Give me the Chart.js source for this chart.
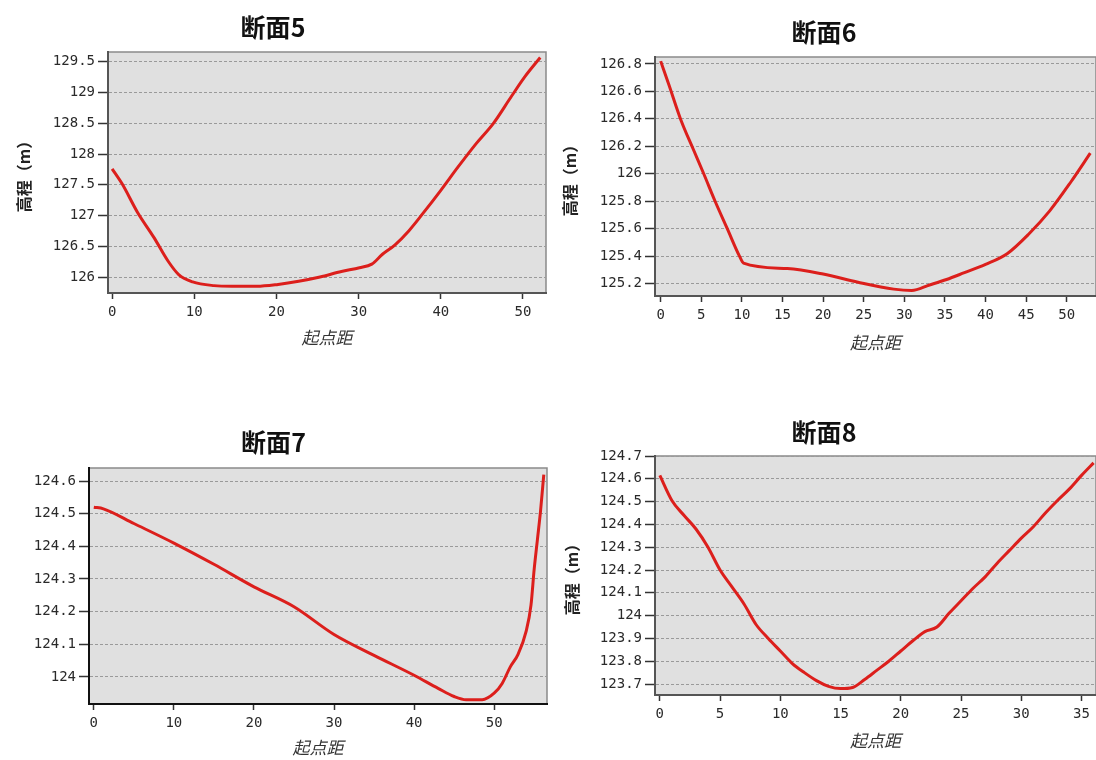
<!DOCTYPE html>
<html>
<head>
<meta charset="utf-8">
<script src="https://cdn.jsdelivr.net/npm/chart.js@4.4.0/dist/chart.umd.min.js"></script>
<style>
body{margin:0;background:#fff;width:1096px;height:760px;overflow:hidden;position:relative}
canvas{position:absolute}
</style>
</head>
<body>
<canvas id="c5" width="566" height="360" style="left:0;top:0"></canvas>
<canvas id="c6" width="544" height="360" style="left:552px;top:0"></canvas>
<canvas id="c7" width="566" height="370" style="left:0;top:390px"></canvas>
<canvas id="c8" width="544" height="370" style="left:552px;top:390px"></canvas>
<script>
// 断面5
const dist5 = [0,1.2,3.1,5.1,6.8,8.1,9.8,12.4,14.6,17.6,20.2,22.7,25.3,27.9,30.1,31.6,32.9,34.4,36.1,37.8,40,42.1,44.3,46.4,48.6,50.3,52.1]
const elev5 = [127.76,127.52,127.05,126.64,126.26,126.04,125.92,125.86,125.85,125.85,125.88,125.93,126.0,126.09,126.15,126.21,126.37,126.52,126.75,127.03,127.41,127.79,128.17,128.5,128.94,129.27,129.57]
const xTicks5 = [0,10,20,30,40,50]
const yTicks5 = [126,126.5,127,127.5,128,128.5,129,129.5]

// 断面6
const dist6 = [0,1,2.5,4,5.3,6.7,8.2,9.7,10.2,15.6,20,24.3,28.7,30.9,33.1,35.2,37.4,40,42.7,45.3,47.9,50.5,52.9]
const elev6 = [126.82,126.65,126.39,126.18,126.0,125.8,125.6,125.4,125.35,125.31,125.27,125.21,125.16,125.15,125.19,125.23,125.28,125.34,125.42,125.56,125.73,125.94,126.15]
const xTicks6 = [0,5,10,15,20,25,30,35,40,45,50]
const yTicks6 = [125.2,125.4,125.6,125.8,126,126.2,126.4,126.6,126.8]

// 断面7
const dist7 = [0,1.2,5,10,15,20,25,30,35,40,43,45,46.5,48.5,50,51,52,53,54,54.6,55,55.4,55.8,56.2]
const elev7 = [124.52,124.515,124.47,124.41,124.345,124.276,124.215,124.13,124.066,124.005,123.965,123.94,123.93,123.93,123.95,123.98,124.03,124.07,124.14,124.22,124.33,124.42,124.51,124.62]
const xTicks7 = [0,10,20,30,40,50]
const yTicks7 = [124,124.1,124.2,124.3,124.4,124.5,124.6]

// 断面8
const dist8 = [0,1,2,3,4,5,6,7,8,9,10,11,12,13,14,15,16,17,18,19,20,21,22,23,24,25,26,27,28,29,30,31,32,33,34,35,36]
const elev8 = [124.615,124.505,124.44,124.38,124.3,124.2,124.125,124.05,123.96,123.9,123.845,123.79,123.75,123.715,123.69,123.68,123.685,123.72,123.76,123.8,123.845,123.89,123.93,123.95,124.01,124.065,124.12,124.17,124.23,124.285,124.34,124.39,124.45,124.505,124.556,124.615,124.67]
const xTicks8 = [0,5,10,15,20,25,30,35]
const yTicks8 = [123.7,123.8,123.9,124,124.1,124.2,124.3,124.4,124.5,124.6,124.7]

const tickFont = {family:'"DejaVu Sans Mono", monospace', size:14}
const cjk = '"Noto Sans CJK SC", sans-serif'

const plotFrame = {
	id:'plotFrame',
	beforeDraw(chart){
		const a = chart.chartArea
		const ctx = chart.ctx
		ctx.save()
		ctx.fillStyle = '#e0e0e0'
		ctx.fillRect(a.left, a.top, a.right - a.left, a.bottom - a.top)
		ctx.strokeStyle = '#8a8a8a'
		ctx.lineWidth = 1.5
		ctx.strokeRect(a.left, a.top, a.right - a.left, a.bottom - a.top)
		ctx.restore()
	}
}

function drawSection(id, title, dist, elev, xTicks, yTicks, xMin, xMax, yMin, yMax, yTitle, box){
	const canvas = document.getElementById(id)
	const W = canvas.width, H = canvas.height
	const points = dist.map((d,i)=>({x:d, y:elev[i]}))
	return new Chart(canvas, {
		type:'line',
		data:{datasets:[{
			data:points,
			borderColor:'#dc1f1c',
			borderWidth:3,
			pointRadius:0,
			cubicInterpolationMode:'monotone',
			fill:false
		}]},
		options:{
			responsive:false,
			animation:false,
			events:[],
			layout:{padding:{left:0, top:0, bottom:0, right:W - box.right}},
			plugins:{
				legend:{display:false},
				tooltip:{enabled:false},
				title:{
					display:true,
					text:title,
					color:'#111',
					font:{family:cjk, size:25, weight:'bold', lineHeight:1.2},
					padding:{top:box.titleY - 15, bottom:box.top - box.titleY - 15}
				}
			},
			scales:{
				x:{
					type:'linear', min:xMin, max:xMax,
					afterBuildTicks: s => { s.ticks = xTicks.map(v=>({value:v})) },
					afterFit: s => { s.height = H - box.bottom },
					grid:{drawOnChartArea:false, drawTicks:true, tickLength:6, tickColor:'#333', tickWidth:1.5},
					border:{color:box.axis, width:2},
					ticks:{callback:v=>String(v), color:'#2a2a2a', font:tickFont, padding:5, maxRotation:0, autoSkip:false},
					title:{
						display:true, text:'起点距', color:'#333',
						font:{family:cjk, size:17, style:'italic', lineHeight:1.2},
						padding:{top:0, bottom:H - box.xTitleY - 10}
					}
				},
				y:{
					type:'linear', min:yMin, max:yMax,
					afterBuildTicks: s => { s.ticks = yTicks.map(v=>({value:v})) },
					afterFit: s => { s.width = box.left },
					grid:{color:'#9a9a9a', lineWidth:1, drawTicks:true, tickLength:10, tickColor:'#333', tickWidth:1.5},
					border:{color:box.axis, width:2, dash:[3,2]},
					ticks:{callback:v=>String(v), color:'#2a2a2a', font:tickFont, padding:3, autoSkip:false},
					title:{
						display:!!yTitle, text:yTitle || '', color:'#222',
						font:{family:cjk, size:16, weight:'bold', lineHeight:1.2},
						padding:{top:(box.yTitleX || 10) - 10, bottom:0}
					}
				}
			}
		},
		plugins:[plotFrame]
	})
}

drawSection('c5', '断面5', dist5, elev5, xTicks5, yTicks5, -0.5, 52.8, 125.74, 129.66, '高程（m）',
	{left:108, right:546, top:52, bottom:293, titleY:27, xTitleY:338, yTitleX:24, axis:'#555'})
drawSection('c6', '断面6', dist6, elev6, xTicks6, yTicks6, -0.7, 53.6, 125.11, 126.85, '高程（m）',
	{left:103, right:544, top:57, bottom:296, titleY:32, xTitleY:343, yTitleX:18, axis:'#555'})
drawSection('c7', '断面7', dist7, elev7, xTicks7, yTicks7, -0.6, 56.6, 123.917, 124.64, null,
	{left:89, right:547, top:78, bottom:314, titleY:52, xTitleY:358, axis:'#111'})
drawSection('c8', '断面8', dist8, elev8, xTicks8, yTicks8, -0.4, 36.2, 123.652, 124.7, '高程（m）',
	{left:103, right:544, top:66, bottom:305, titleY:42, xTitleY:351, yTitleX:20, axis:'#555'})
</script>
</body>
</html>
